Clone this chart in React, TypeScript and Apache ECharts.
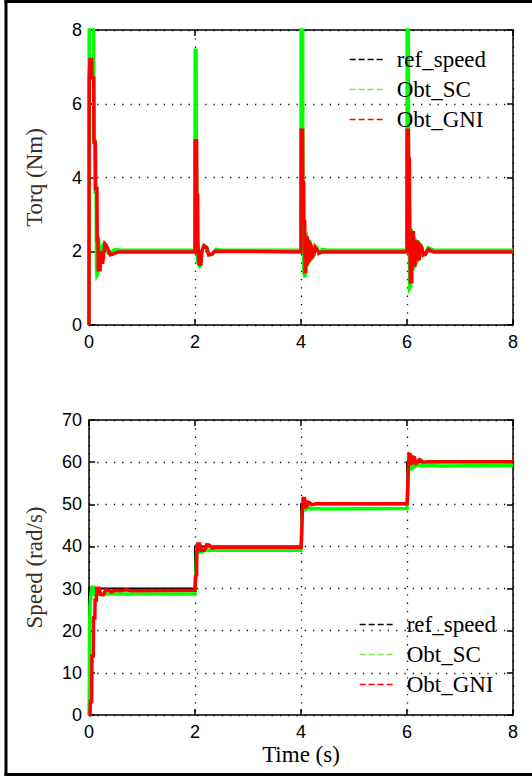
import React, { useEffect, useRef } from "react";
import * as echarts from "echarts";

// ---------- data ----------
const timeTicks = [0, 2, 4, 6, 8];
const legendNames = ["ref_speed", "Obt_SC", "Obt_GNI"];

// Torque (Nm) – reference has no visible trace in this panel
const torqueRef: [number, number][] = [];

const torqueSC: [number, number][] = [
  [0, 0], [0.004, 9], [0.085, 9], [0.09, 5], [0.11, 5], [0.115, 3.6], [0.135, 3.6],
  [0.14, 1.6], [0.15, 1.35], [0.17, 1.4], [0.175, 2.4], [0.185, 2.3], [0.19, 1.7],
  [0.22, 1.75], [0.24, 2.1], [0.28, 2.2], [0.32, 2.1], [0.36, 1.95], [0.42, 1.98],
  [0.5, 2.05], [0.6, 2.03], [2.0, 2.03],
  [2.003, 7.45], [2.02, 7.45], [2.025, 5], [2.035, 2.5], [2.045, 2.5], [2.05, 1.7],
  [2.09, 1.6], [2.11, 1.65], [2.13, 2.0], [2.17, 2.15], [2.22, 2.1], [2.26, 1.9],
  [2.32, 1.92], [2.4, 2.05], [2.5, 2.03], [4.0, 2.03],
  [4.003, 9], [4.03, 9], [4.035, 2.6], [4.05, 2.55], [4.055, 1.4], [4.08, 1.3],
  [4.09, 2.5], [4.11, 2.4], [4.12, 1.6], [4.14, 1.7], [4.16, 2.3], [4.18, 2.2],
  [4.2, 1.8], [4.23, 1.85], [4.26, 2.15], [4.3, 2.1], [4.33, 1.95], [4.4, 2.05],
  [4.5, 2.03], [6.0, 2.03],
  [6.003, 9], [6.025, 9], [6.03, 2.7], [6.045, 2.6], [6.05, 1.0], [6.07, 1.05],
  [6.08, 2.6], [6.1, 2.5], [6.11, 1.5], [6.14, 1.6], [6.16, 2.3], [6.18, 2.25],
  [6.2, 1.75], [6.22, 1.8], [6.24, 2.2], [6.27, 2.15], [6.3, 1.9], [6.35, 1.95],
  [6.4, 2.1], [6.5, 2.03], [8, 2.03],
];

const torqueGNI: [number, number][] = [
  [0, 0], [0.004, 6.7], [0.02, 7.2], [0.05, 7.2], [0.055, 6.7], [0.09, 6.7],
  [0.095, 4.95], [0.12, 4.95], [0.125, 3.7], [0.15, 3.7], [0.155, 2.3], [0.17, 2.3],
  [0.175, 1.5], [0.21, 1.5], [0.215, 2.0], [0.23, 1.7], [0.26, 1.7], [0.3, 2.2],
  [0.33, 2.15], [0.4, 1.9], [0.45, 1.92], [0.55, 1.98], [2.0, 1.98],
  [2.003, 5.0], [2.03, 5.0], [2.035, 3.5], [2.05, 3.5], [2.055, 2.3], [2.065, 1.85],
  [2.08, 1.65], [2.11, 1.65], [2.13, 2.0], [2.17, 2.15], [2.22, 2.1], [2.26, 1.9],
  [2.32, 1.92], [2.38, 2.0], [4.0, 1.98],
  [4.003, 5.28], [4.03, 5.28], [4.035, 3.85], [4.05, 3.85], [4.055, 2.8], [4.07, 2.8],
  [4.075, 1.45], [4.09, 1.45], [4.1, 2.35], [4.12, 2.35], [4.13, 1.7], [4.15, 1.75],
  [4.17, 2.2], [4.19, 2.15], [4.21, 1.85], [4.24, 1.9], [4.27, 2.1], [4.3, 2.05],
  [4.34, 1.95], [4.4, 1.98], [6.0, 1.98],
  [6.003, 5.28], [6.025, 5.28], [6.03, 4.5], [6.045, 4.5], [6.05, 3.07], [6.06, 3.07],
  [6.065, 1.17], [6.09, 1.17], [6.1, 2.5], [6.12, 2.5], [6.13, 1.63], [6.15, 1.63],
  [6.17, 2.25], [6.19, 2.25], [6.21, 1.8], [6.23, 1.8], [6.25, 2.15], [6.28, 2.1],
  [6.31, 1.9], [6.35, 1.92], [6.4, 2.05], [6.5, 1.98], [8, 1.98],
];

// Speed (rad/s)
const speedRef: [number, number][] = [
  [0, 0], [0, 30], [2, 30], [2, 40], [4, 40], [4, 50], [6, 50], [6, 60], [8, 60],
];

const speedSC: [number, number][] = [
  [0, 0], [0.005, 3], [0.01, 20], [0.02, 26], [0.04, 28.9], [0.06, 30.3], [0.09, 30.3],
  [0.11, 28.5], [0.14, 28.3], [0.18, 29.0], [0.22, 28.6], [0.3, 28.7], [2.0, 28.7],
  [2.01, 32], [2.02, 35], [2.03, 38.5], [2.045, 40.3], [2.07, 40.3], [2.1, 38.6],
  [2.15, 38.7], [2.2, 39.5], [2.25, 39.0], [2.3, 39.1], [4.0, 39.1],
  [4.01, 44], [4.025, 48.0], [4.04, 50.0], [4.06, 50.0], [4.08, 48.7], [4.11, 48.8],
  [4.14, 49.4], [4.18, 48.9], [4.3, 49.0], [4.4, 48.9], [6.0, 49.0],
  [6.01, 53], [6.025, 58.1], [6.04, 60.5], [6.06, 60.4], [6.08, 58.4], [6.1, 58.5],
  [6.13, 59.6], [6.16, 59.0], [6.2, 59.3], [6.35, 59.1], [6.5, 59.3], [6.6, 59.1],
  [8, 59.2],
];

const speedGNI: [number, number][] = [
  [0, 0], [0.02, 0], [0.025, 3.2], [0.05, 3.2], [0.055, 14], [0.08, 14], [0.085, 23],
  [0.11, 23], [0.115, 27.3], [0.14, 27.3], [0.15, 30.1], [0.19, 30.1], [0.22, 28.6],
  [0.27, 28.5], [0.32, 29.7], [0.36, 29.6], [0.42, 29.2], [0.5, 29.6], [0.6, 29.5],
  [0.7, 29.7], [0.8, 29.5], [2.0, 29.6],
  [2.01, 33], [2.03, 33.2], [2.035, 38.8], [2.05, 38.9], [2.055, 40.6], [2.09, 40.6],
  [2.12, 39.1], [2.18, 39.1], [2.22, 40.4], [2.27, 40.3], [2.32, 39.6], [2.4, 39.8],
  [4.0, 39.8],
  [4.01, 41.5], [4.02, 41.5], [4.025, 48.6], [4.035, 48.6], [4.04, 51.4], [4.065, 51.4],
  [4.09, 49.4], [4.11, 49.5], [4.13, 50.5], [4.16, 50.4], [4.2, 49.9], [4.25, 50.0],
  [4.3, 50.2], [4.4, 50.1], [6.0, 50.1],
  [6.01, 52], [6.02, 52], [6.025, 58.9], [6.035, 59], [6.04, 61.9], [6.06, 61.8],
  [6.08, 59.7], [6.1, 59.8], [6.12, 61.2], [6.14, 61.1], [6.17, 59.7], [6.2, 59.9],
  [6.23, 60.6], [6.26, 60.5], [6.3, 60.0], [6.4, 60.1], [8, 60.1],
];

// ---------- styling ----------
const SANS = "'Liberation Sans', Arial, sans-serif";
const SERIF = "'Liberation Serif', 'Times New Roman', serif";
const COLORS = { ref: "#000000", sc: "#00ff00", gni: "#ff0000" };

function xAxes(gridIndex: number, withName: boolean) {
  const common = {
    type: "value" as const,
    gridIndex,
    min: timeTicks[0],
    max: timeTicks[timeTicks.length - 1],
    interval: 2,
    axisLine: { show: true, onZero: false, lineStyle: { color: "#000", width: 1.5 } },
    axisTick: { show: true, inside: true, length: 6, lineStyle: { color: "#000", width: 1.5 } },
  };
  return [
    {
      ...common,
      position: "bottom",
      axisLabel: { show: true, color: "#000", fontFamily: SANS, fontSize: 18, margin: 8 },
      splitLine: { show: true, lineStyle: { color: "#111", type: [1.3, 7], width: 1.3 } },
      name: withName ? "Time (s)" : "",
      nameLocation: "middle",
      nameGap: 28,
      nameTextStyle: { color: "#000", fontFamily: SERIF, fontSize: 23 },
    },
    {
      ...common,
      position: "top",
      axisLabel: { show: false },
      splitLine: { show: false },
    },
  ];
}

function yAxes(gridIndex: number, max: number, interval: number, name: string) {
  const common = {
    type: "value" as const,
    gridIndex,
    min: 0,
    max,
    interval,
    axisLine: { show: true, onZero: false, lineStyle: { color: "#000", width: 1.5 } },
    axisTick: { show: true, inside: true, length: 6, lineStyle: { color: "#000", width: 1.5 } },
  };
  return [
    {
      ...common,
      position: "left",
      axisLabel: { show: true, color: "#000", fontFamily: SANS, fontSize: 18, margin: 7 },
      splitLine: { show: true, lineStyle: { color: "#111", type: [1.3, 7], width: 1.3 } },
      name,
      nameLocation: "middle",
      nameGap: 43,
      nameTextStyle: { color: "#3e2e26", fontFamily: SERIF, fontSize: 23 },
    },
    {
      ...common,
      position: "right",
      axisLabel: { show: false },
      splitLine: { show: false },
    },
  ];
}

function lineSeries(name: string, data: [number, number][], color: string, width: number, xi: number, yi: number) {
  return {
    type: "line",
    name,
    data,
    xAxisIndex: xi,
    yAxisIndex: yi,
    symbol: "none",
    showSymbol: false,
    lineStyle: { color, width, join: "miter" },
    itemStyle: { color },
    emphasis: { disabled: true },
  };
}

function legend(left: number, top: number) {
  return {
    orient: "vertical",
    left,
    top,
    itemWidth: 34,
    itemHeight: 14,
    itemGap: 7,
    selectedMode: false,
    itemStyle: { opacity: 0, borderWidth: 0 },
    lineStyle: { width: 1.3, type: [6, 3] },
    textStyle: { color: "#000", fontFamily: SERIF, fontSize: 23, padding: [0, 0, 0, 8] },
    data: [
      { name: legendNames[0], lineStyle: { color: COLORS.ref } },
      { name: legendNames[1], lineStyle: { color: "#86e04a" } },
      { name: legendNames[2], lineStyle: { color: COLORS.gni } },
    ],
  };
}

export default function App() {
  const ref = useRef<HTMLDivElement>(null);
  useEffect(() => {
    if (!ref.current) return;
    const chart = echarts.init(ref.current, null, { renderer: "svg" });
    chart.setOption({
      animation: false,
      backgroundColor: "#ffffff",
      grid: [
        { left: 89, top: 30, width: 424, height: 295, containLabel: false },
        { left: 89, top: 420, width: 424, height: 295, containLabel: false },
      ],
      xAxis: [...xAxes(0, false), ...xAxes(1, true)],
      yAxis: [...yAxes(0, 8, 2, "Torq (Nm)"), ...yAxes(1, 70, 10, "Speed (rad/s)")],
      legend: [legend(344, 43), legend(354, 608)],
      series: [
        lineSeries(legendNames[0], torqueRef, COLORS.ref, 2, 0, 0),
        lineSeries(legendNames[1], torqueSC, COLORS.sc, 3.5, 0, 0),
        lineSeries(legendNames[2], torqueGNI, COLORS.gni, 3.5, 0, 0),
        lineSeries(legendNames[0], speedRef, COLORS.ref, 2, 2, 2),
        lineSeries(legendNames[1], speedSC, COLORS.sc, 3.5, 2, 2),
        lineSeries(legendNames[2], speedGNI, COLORS.gni, 3.5, 2, 2),
      ],
      graphic: [
        { type: "line", shape: { x1: 4.5, y1: 1.5, x2: 540, y2: 1.5 }, style: { stroke: "#000", lineWidth: 3 }, silent: true },
        { type: "line", shape: { x1: 6, y1: 0, x2: 6, y2: 776 }, style: { stroke: "#000", lineWidth: 3 }, silent: true },
        { type: "line", shape: { x1: 4.5, y1: 774.5, x2: 540, y2: 774.5 }, style: { stroke: "#000", lineWidth: 3 }, silent: true },
      ],
    });
    return () => chart.dispose();
  }, []);
  return (
    <div
      ref={ref}
      style={{ position: "fixed", left: 0, top: 0, width: 532, height: 782, background: "#fff" }}
    />
  );
}
